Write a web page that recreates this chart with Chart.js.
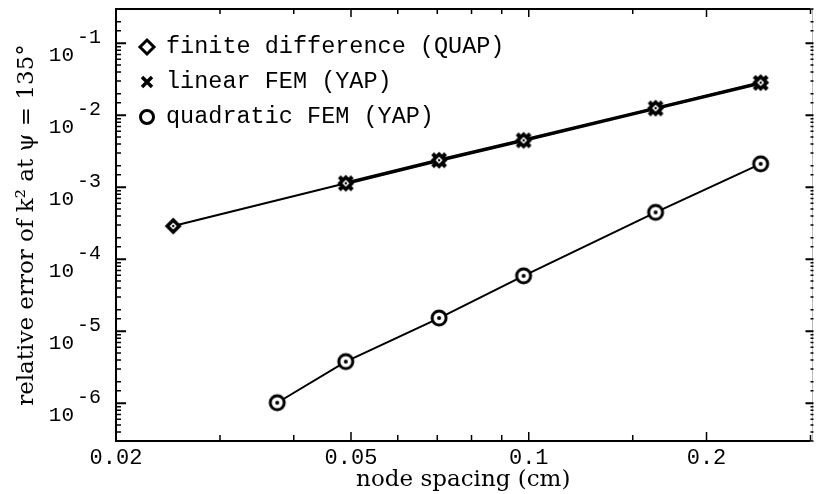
<!DOCTYPE html>
<html>
<head>
<meta charset="utf-8">
<script src="https://cdn.jsdelivr.net/npm/chart.js@4.4.1/dist/chart.umd.min.js"></script>
<style>
  html, body { margin: 0; padding: 0; background: #fff; }
</style>
</head>
<body>
<canvas id="errChart" width="818" height="494"></canvas>
<script>
// relative error of k^2 vs node spacing, log-log
const fdSpacing = [0.025, 0.049, 0.0705, 0.098, 0.164, 0.247];
const fdError = [2.9e-4, 1.14e-3, 2.38e-3, 4.5e-3, 1.26e-2, 2.85e-2];

const linSpacing = [0.049, 0.0705, 0.098, 0.164, 0.247];
const linError = [1.14e-3, 2.38e-3, 4.5e-3, 1.25e-2, 2.82e-2];

const quadSpacing = [0.0375, 0.049, 0.0705, 0.098, 0.164, 0.247];
const quadError = [1.02e-6, 3.8e-6, 1.53e-5, 5.9e-5, 4.5e-4, 2.12e-3];

const seriesLabels = ["finite difference (QUAP)", "linear FEM (YAP)", "quadratic FEM (YAP)"];
const xTickLabels = ["0.02", "0.05", "0.1", "0.2"];
const yTickExps = [-1, -2, -3, -4, -5, -6];

const MONO = "'Liberation Mono', 'DejaVu Sans Mono', monospace";
const SERIF = "'DejaVu Serif', 'Liberation Serif', serif";

function toXY(xs, ys) {
  return xs.map((x, i) => ({ x: x, y: ys[i] }));
}

// little canvases used as point styles
function marker(size, draw) {
  const c = document.createElement("canvas");
  c.width = size;
  c.height = size;
  const g = c.getContext("2d");
  g.translate(size / 2, size / 2);
  g.strokeStyle = "#000";
  g.fillStyle = "#000";
  draw(g);
  return c;
}

function diamondPath(g, r) {
  g.beginPath();
  g.moveTo(0, -r);
  g.lineTo(r, 0);
  g.lineTo(0, r);
  g.lineTo(-r, 0);
  g.closePath();
}

const diamondPt = marker(22, g => {
  diamondPath(g, 8.5);
  g.fill();
  g.fillStyle = "#fff";
  diamondPath(g, 3.5);
  g.fill();
  g.fillStyle = "#000";
  g.beginPath();
  g.arc(0, 0, 1.2, 0, Math.PI * 2);
  g.fill();
});

const crossPt = marker(22, g => {
  g.lineWidth = 4;
  g.beginPath();
  g.moveTo(-6.5, -6.5); g.lineTo(6.5, 6.5);
  g.moveTo(6.5, -6.5); g.lineTo(-6.5, 6.5);
  g.stroke();
});

const circlePt = marker(22, g => {
  g.lineWidth = 3;
  g.fillStyle = "#fff";
  g.beginPath();
  g.arc(0, 0, 7, 0, Math.PI * 2);
  g.fill();
  g.stroke();
  g.fillStyle = "#000";
  g.beginPath();
  g.arc(0, 0, 2, 0, Math.PI * 2);
  g.fill();
});

const legendMarks = [
  marker(20, g => { g.lineWidth = 3; diamondPath(g, 7); g.stroke(); }),
  marker(20, g => {
    g.lineWidth = 3.5;
    g.beginPath();
    g.moveTo(-5, -5); g.lineTo(5, 5);
    g.moveTo(5, -5); g.lineTo(-5, 5);
    g.stroke();
  }),
  marker(20, g => { g.lineWidth = 3; g.beginPath(); g.arc(0, 0, 6.5, 0, Math.PI * 2); g.stroke(); })
];

// frame, inward ticks, y labels with exponents and the legend
const decorations = {
  id: "decorations",
  afterDraw(chart) {
    const ctx = chart.ctx;
    const a = chart.chartArea;
    const xs = chart.scales.x;
    const ys = chart.scales.y;
    ctx.save();
    ctx.strokeStyle = "#000";
    ctx.fillStyle = "#000";

    // frame
    ctx.lineWidth = 2;
    ctx.beginPath();
    ctx.moveTo(a.right, a.top); ctx.lineTo(a.left, a.top);
    ctx.lineTo(a.left, a.bottom); ctx.lineTo(a.right, a.bottom);
    ctx.stroke();
    ctx.strokeStyle = "#bbb";
    ctx.lineWidth = 1;
    ctx.beginPath();
    ctx.moveTo(a.right + 2, a.top); ctx.lineTo(a.right + 2, a.bottom);
    ctx.stroke();
    ctx.strokeStyle = "#000";

    // x ticks, bottom and top
    ctx.lineWidth = 1.5;
    xs.ticks.forEach(t => {
      const px = xs.getPixelForValue(t.value);
      const major = xTickLabels.some(l => Math.abs(parseFloat(l) - t.value) < 1e-9);
      const len = major ? 9 : 6;
      ctx.beginPath();
      ctx.moveTo(px, a.bottom); ctx.lineTo(px, a.bottom - len);
      ctx.moveTo(px, a.top); ctx.lineTo(px, a.top + len - 1);
      ctx.stroke();
    });

    // y ticks, left and right
    ys.ticks.forEach(t => {
      const py = ys.getPixelForValue(t.value);
      const e = Math.log10(t.value);
      const major = Math.abs(e - Math.round(e)) < 1e-6;
      ctx.lineWidth = major ? 2 : 1.5;
      ctx.beginPath();
      ctx.moveTo(a.left, py); ctx.lineTo(a.left + (major ? 10 : 5), py);
      ctx.moveTo(a.right + 3, py); ctx.lineTo(a.right + 3 - (major ? 8 : 3), py);
      ctx.stroke();
    });

    // y tick labels 10^n
    yTickExps.forEach(n => {
      const py = ys.getPixelForValue(Math.pow(10, n));
      ctx.textBaseline = "middle";
      ctx.font = "21px " + MONO;
      ctx.textAlign = "right";
      ctx.fillText("10", 74, py + 12.5);
      ctx.font = "20px " + MONO;
      ctx.textAlign = "left";
      ctx.fillText(String(n), 77, py - 5.5);
    });

    // legend
    const rows = [47, 82, 117];
    ctx.font = "23.5px " + MONO;
    ctx.textAlign = "left";
    ctx.textBaseline = "alphabetic";
    chart.data.datasets.forEach((ds, i) => {
      const m = legendMarks[i];
      ctx.drawImage(m, 147 - m.width / 2, rows[i] - m.height / 2);
      ctx.fillText(ds.label, 166, rows[i] + 6);
    });
    ctx.restore();
  }
};

new Chart(document.getElementById("errChart").getContext("2d"), {
  type: "scatter",
  data: {
    datasets: [
      {
        label: seriesLabels[0],
        data: toXY(fdSpacing, fdError),
        showLine: true,
        borderColor: "#000",
        borderWidth: 2,
        pointStyle: diamondPt
      },
      {
        label: seriesLabels[1],
        data: toXY(linSpacing, linError),
        showLine: true,
        borderColor: "#000",
        borderWidth: 3.5,
        pointStyle: crossPt
      },
      {
        label: seriesLabels[2],
        data: toXY(quadSpacing, quadError),
        showLine: true,
        borderColor: "#000",
        borderWidth: 2,
        pointStyle: circlePt
      }
    ]
  },
  options: {
    responsive: false,
    animation: false,
    devicePixelRatio: 1,
    layout: { padding: { left: 0, top: 9, right: 6, bottom: 0 } },
    plugins: {
      legend: { display: false },
      tooltip: { enabled: false }
    },
    scales: {
      x: {
        type: "logarithmic",
        min: 0.02,
        max: 0.3,
        grid: { display: false, drawTicks: false },
        border: { display: false },
        ticks: {
          autoSkip: false,
          maxRotation: 0,
          padding: 4,
          color: "#000",
          font: { family: MONO, size: 22 },
          callback: v => xTickLabels.find(l => Math.abs(parseFloat(l) - v) < 1e-9) || ""
        },
        title: {
          display: true,
          text: "node spacing (cm)",
          color: "#000",
          font: { family: SERIF, size: 23 },
          padding: { top: 0, bottom: 0 }
        },
        afterFit: s => { s.height = 53; }
      },
      y: {
        type: "logarithmic",
        min: 3e-7,
        max: 0.3,
        grid: { display: false, drawTicks: false },
        border: { display: false },
        ticks: { display: false },
        title: {
          display: true,
          text: "relative error of k² at ψ = 135°",
          color: "#000",
          font: { family: SERIF, size: 23 },
          padding: { top: 13, bottom: 0 }
        },
        afterFit: s => { s.width = 116; }
      }
    }
  },
  plugins: [decorations]
});
</script>
</body>
</html>
